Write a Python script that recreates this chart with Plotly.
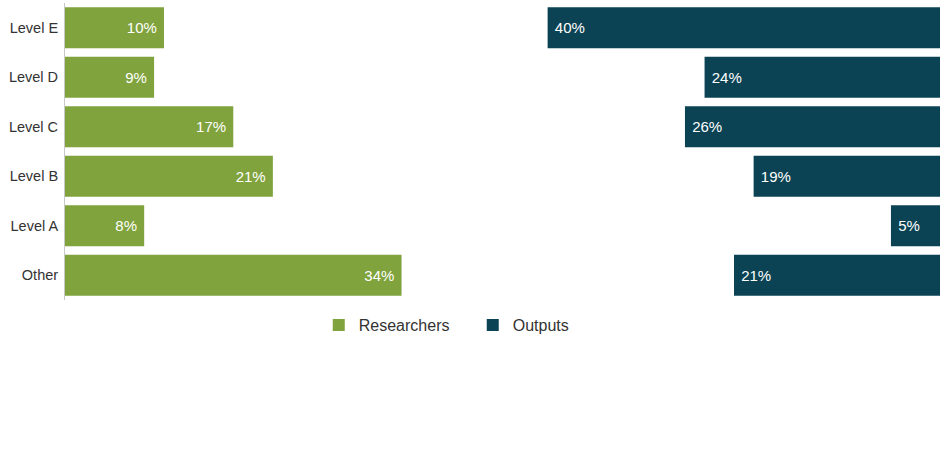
import plotly.graph_objects as go
from plotly.subplots import make_subplots

categories = ["Level E", "Level D", "Level C", "Level B", "Level A", "Other"]
researchers = [10, 9, 17, 21, 8, 34]
outputs = [40, 24, 26, 19, 5, 21]

GREEN = "#80a33d"
TEAL = "#0b4354"
NB = "\u00a0"

fig = make_subplots(rows=1, cols=2, shared_yaxes=False, horizontal_spacing=0)

fig.add_trace(go.Bar(
    y=categories, x=researchers, orientation="h", name="Researchers",
    marker=dict(color=GREEN, line=dict(width=0)),
    text=[f"{v}%{NB}" for v in researchers], textposition="inside",
    insidetextanchor="end", textangle=0,
    textfont=dict(color="white", size=15, family="Liberation Sans, Arial"),
    width=0.83, hoverinfo="skip",
), row=1, col=1)

fig.add_trace(go.Bar(
    y=categories, x=outputs, orientation="h", name="Outputs",
    marker=dict(color=TEAL, line=dict(width=0)),
    text=[f"{NB}{v}%" for v in outputs], textposition="inside",
    insidetextanchor="end", textangle=0,
    textfont=dict(color="white", size=15, family="Liberation Sans, Arial"),
    width=0.83, hoverinfo="skip",
), row=1, col=2)

fig.update_xaxes(row=1, col=1, range=[0, 44.2], visible=False, domain=[0, 0.5])
fig.update_xaxes(row=1, col=2, range=[44.6, 0], visible=False, domain=[0.5, 1])
fig.update_yaxes(row=1, col=1, categoryorder="array", categoryarray=categories[::-1],
                 showline=True, linecolor="#c8c8c8", linewidth=1, showgrid=False,
                 ticks="", ticklabelstandoff=3, automargin=False,
                 tickfont=dict(size=14.5, color="#333333", family="Liberation Sans, Arial"))
fig.update_yaxes(row=1, col=2, categoryorder="array", categoryarray=categories[::-1],
                 showticklabels=False, showgrid=False, showline=False, ticks="",
                 automargin=False)

fig.update_layout(
    width=945, height=465,
    margin=dict(l=65, r=5, t=3, b=165, autoexpand=False),
    plot_bgcolor="white", paper_bgcolor="white",
    font=dict(family="Liberation Sans, Arial", color="#333333"),
    showlegend=True,
    legend=dict(orientation="h", x=0.290, xanchor="left", y=-0.027, yanchor="top",
                font=dict(size=16, color="#333333"), entrywidth=109,
                itemwidth=30),
)

fig.write_html("out.html", config={"displayModeBar": False},
               post_script="document.body.style.margin='0';")
